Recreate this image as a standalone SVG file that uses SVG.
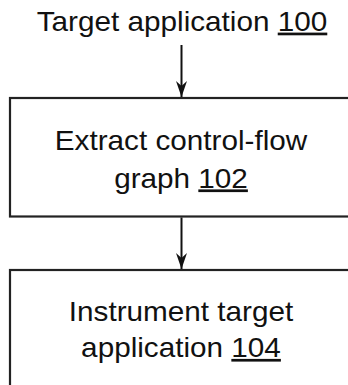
<svg xmlns="http://www.w3.org/2000/svg" width="348" height="385" viewBox="0 0 348 385">
<defs>
<style>
.lbl{font-family:"Liberation Sans",Arial,sans-serif;font-size:27px;fill:#111;text-anchor:middle}
.box{fill:#fff;stroke:#222;stroke-width:2.2}
.conn{stroke:#111;stroke-width:2;fill:none}
.u{text-decoration:underline}
</style>
<marker id="arr" markerUnits="userSpaceOnUse" markerWidth="20" markerHeight="16" viewBox="-17 -8 18 16" refX="0" refY="0" orient="auto">
<path d="M0,0 L-16,-5.5 L-11,0 L-16,5.5 Z" fill="#111"/>
</marker>
</defs>
<rect width="348" height="385" fill="#fff"/>
<g id="n100">
<text class="lbl" transform="translate(182,30.7) scale(1.1,1)">Target application <tspan class="u">100</tspan></text>
</g>
<g id="n102">
<rect class="box" x="10" y="98" width="400" height="118.5"/>
<text class="lbl" transform="translate(181,149.5) scale(1.1,1)">Extract control-flow</text>
<text class="lbl" transform="translate(181,187.5) scale(1.1,1)">graph <tspan class="u">102</tspan></text>
</g>
<g id="n104">
<rect class="box" x="10" y="270" width="400" height="140"/>
<text class="lbl" transform="translate(181,321) scale(1.1,1)">Instrument target</text>
<text class="lbl" transform="translate(181,357) scale(1.1,1)">application <tspan class="u">104</tspan></text>
</g>
<g id="connectors">
<line class="conn" x1="181.5" y1="45" x2="181.5" y2="97" marker-end="url(#arr)"/>
<line class="conn" x1="181.5" y1="217.5" x2="181.5" y2="269" marker-end="url(#arr)"/>
</g>
</svg>
